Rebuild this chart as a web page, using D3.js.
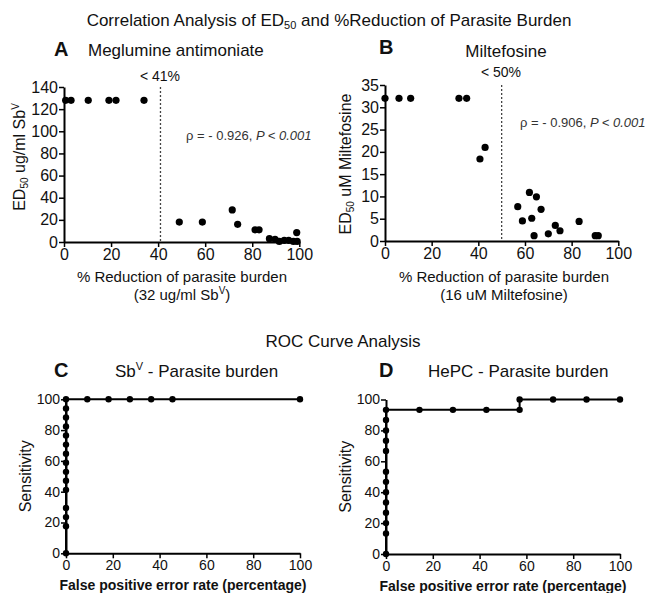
<!DOCTYPE html>
<html>
<head>
<meta charset="utf-8">
<script src="https://cdn.jsdelivr.net/npm/d3@7"></script>
<style>
  body { margin: 0; background: #fff; }
  text { font-family: "Liberation Sans", Arial, sans-serif; fill: #111; }
</style>
</head>
<body>
<script>
// Panel A: meglumine antimoniate, % reduction vs ED50
const aReduction = [0.7, 3, 10.3, 19.1, 22.1, 34, 49, 58.8, 71.5, 73.8, 81.2, 82.9, 87.3, 89.7, 91.5, 93.6, 95.5, 97.5, 98.9, 99.1];
const aED50      = [128, 128, 128, 128, 128, 128, 18, 18, 29, 16, 11, 11, 3, 2.5, 0.5, 1.5, 1.5, 0.5, 8.5, 0.5];

// Panel B: miltefosine
const bReduction = [0, 6, 11, 31.7, 35, 40.7, 42.9, 56.9, 58.9, 61.9, 62.9, 63.9, 64.9, 66.9, 70, 73, 75, 83.2, 90.1, 91.4];
const bED50      = [32, 32, 32, 32, 32, 18.4, 21, 7.7, 4.5, 10.9, 5.1, 1.2, 9.9, 7.1, 1.6, 3.5, 2.3, 4.4, 1.2, 1.2];

// Panel C: ROC SbV
const cFalsePos = [0, 0, 0, 0, 0, 0, 0, 0, 0, 0, 0, 0, 0, 0, 0, 9.1, 18.2, 27.3, 36.4, 45.5, 100];
const cSens     = [0, 17.6, 23.5, 29.4, 41.2, 47.1, 52.9, 58.8, 64.7, 70.6, 76.5, 82.4, 88.2, 94.1, 100, 100, 100, 100, 100, 100, 100];

// Panel D: ROC HePC
const dFalsePos = [0, 0, 0, 0, 0, 0, 0, 0, 0, 0, 0, 0, 0, 14.3, 28.6, 42.9, 57.1, 57.1, 71.4, 85.7, 100];
const dSens     = [0, 13.3, 20, 26.7, 33.3, 40, 46.7, 53.3, 66.7, 73.3, 80, 86.7, 93.3, 93.3, 93.3, 93.3, 93.3, 100, 100, 100, 100];

const xTicks = [0, 20, 40, 60, 80, 100];
const aYTicks = [0, 20, 40, 60, 80, 100, 120, 140];
const bYTicks = [0, 5, 10, 15, 20, 25, 30, 35];
const rocTicks = [0, 20, 40, 60, 80, 100];

const svg = d3.select("body").append("svg")
  .attr("width", 654).attr("height", 593);

function axes(xs, ys, xt, yt, fs, col) {
  const xa = svg.append("g")
    .attr("transform", `translate(0,${ys.range()[0]})`)
    .call(d3.axisBottom(xs).tickValues(xt).tickSize(5).tickPadding(2).tickSizeOuter(0));
  const ya = svg.append("g")
    .attr("transform", `translate(${xs.range()[0]},0)`)
    .call(d3.axisLeft(ys).tickValues(yt).tickSize(5).tickPadding(1).tickSizeOuter(0));
  [xa, ya].forEach(g => {
    g.select(".domain").attr("stroke", "#000").attr("stroke-width", 2);
    g.selectAll(".tick line").attr("stroke", "#000").attr("stroke-width", 1.5);
    g.selectAll(".tick text").style("font-size", fs + "px")
      .style("font-family", "'Liberation Sans', Arial, sans-serif").attr("fill", col);
  });
}

function label(x, y, txt, size, opts = {}) {
  const t = svg.append("text").attr("x", x).attr("y", y)
    .attr("text-anchor", opts.anchor || "middle")
    .style("font-size", size + "px");
  if (txt) t.text(txt);
  if (opts.bold) t.style("font-weight", "bold");
  if (opts.rotate) t.attr("transform", `rotate(-90,${x},${y})`);
  if (opts.fill) t.style("fill", opts.fill);
  return t;
}

// main titles
label(329, 26, "", 17).call(t => {
  t.append("tspan").text("Correlation Analysis of ED");
  t.append("tspan").text("50").attr("font-size", "11px").attr("dy", 3);
  t.append("tspan").text(" and %Reduction of Parasite Burden").attr("dy", -3);
});
label(343, 347, "ROC Curve Analysis", 17);

// ---------- Panel A ----------
const ax = d3.scaleLinear().domain([0, 100]).range([64, 299.3]);
const ay = d3.scaleLinear().domain([0, 140]).range([242, 87]);
axes(ax, ay, xTicks, aYTicks, 16, "#111");
svg.append("line").attr("x1", ax(41)).attr("x2", ax(41)).attr("y1", ay(140)).attr("y2", ay(0))
  .attr("stroke", "#444").attr("stroke-width", 1.3).attr("stroke-dasharray", "2,2");
svg.append("g").selectAll("circle").data(aReduction).join("circle")
  .attr("cx", d => ax(d)).attr("cy", (d, i) => ay(aED50[i])).attr("r", 3.6).attr("fill", "#000");
label(54, 56, "A", 20, { anchor: "start", bold: true });
label(88, 56, "Meglumine antimoniate", 17, { anchor: "start" });
label(160, 81, "< 41%", 14);
label(186, 140, "", 13, { anchor: "start", fill: "#333" }).call(t => {
  t.append("tspan").text("ρ = - 0.926, ");
  t.append("tspan").text("P < 0.001").style("font-style", "italic");
});
label(182, 282, "% Reduction of parasite burden", 15);
label(182, 300, "", 15).call(t => {
  t.append("tspan").text("(32 ug/ml Sb");
  t.append("tspan").text("V").attr("font-size", "10px").attr("dy", -6);
  t.append("tspan").text(")").attr("dy", 6);
});
label(25, 157, "", 16, { rotate: true }).call(t => {
  t.append("tspan").text("ED");
  t.append("tspan").text("50").attr("font-size", "10px").attr("dy", 3);
  t.append("tspan").text(" ug/ml Sb").attr("dy", -3);
  t.append("tspan").text("V").attr("font-size", "10px").attr("dy", -6);
});

// ---------- Panel B ----------
const bx = d3.scaleLinear().domain([0, 100]).range([385, 618.3]);
const by = d3.scaleLinear().domain([0, 35]).range([241, 85]);
axes(bx, by, xTicks, bYTicks, 16, "#111");
svg.append("line").attr("x1", bx(50)).attr("x2", bx(50)).attr("y1", by(35)).attr("y2", by(0))
  .attr("stroke", "#444").attr("stroke-width", 1.3).attr("stroke-dasharray", "2,2");
svg.append("g").selectAll("circle").data(bReduction).join("circle")
  .attr("cx", d => bx(d)).attr("cy", (d, i) => by(bED50[i])).attr("r", 3.6).attr("fill", "#000");
label(379, 54, "B", 20, { anchor: "start", bold: true });
label(506, 57, "Miltefosine", 17);
label(501, 77, "< 50%", 14);
label(520, 127, "", 13, { anchor: "start", fill: "#333" }).call(t => {
  t.append("tspan").text("ρ = - 0.906, ");
  t.append("tspan").text("P < 0.001").style("font-style", "italic");
});
label(504, 282, "% Reduction of parasite burden", 15);
label(504, 300, "(16 uM Miltefosine)", 15);
label(351, 164, "", 16, { rotate: true }).call(t => {
  t.append("tspan").text("ED");
  t.append("tspan").text("50").attr("font-size", "10px").attr("dy", 3);
  t.append("tspan").text(" uM Miltefosine").attr("dy", -3);
});

// ---------- ROC panels ----------
function roc(fp, sens, xr, yr, letter, lx, titleParts, tx) {
  const x = d3.scaleLinear().domain([0, 100]).range(xr);
  const y = d3.scaleLinear().domain([0, 100]).range(yr);
  axes(x, y, rocTicks, rocTicks, 14, "#333");
  const pts = fp.map((d, i) => [d, sens[i]]);
  svg.append("path").datum(pts)
    .attr("d", d3.line().x(d => x(d[0])).y(d => y(d[1])))
    .attr("fill", "none").attr("stroke", "#000").attr("stroke-width", 2);
  svg.append("g").selectAll("circle").data(pts).join("circle")
    .attr("cx", d => x(d[0])).attr("cy", d => y(d[1])).attr("r", 3.2).attr("fill", "#000");
  label(lx, 377, letter, 20, { anchor: "start", bold: true });
  label(tx, 377, "", 17, { anchor: "start" }).call(titleParts);
  const mid = (xr[0] + xr[1]) / 2;
  label(mid, yr[0] + 37, "False positive error rate (percentage)", 14, { bold: true })
    .attr("textLength", 247).attr("lengthAdjust", "spacingAndGlyphs");
  label(xr[0] - 35, (yr[0] + yr[1]) / 2, "Sensitivity", 16, { rotate: true });
}

roc(cFalsePos, cSens, [66, 300], [553.3, 399.3], "C", 54, t => {
  t.append("tspan").text("Sb");
  t.append("tspan").text("V").attr("font-size", "11px").attr("dy", -7);
  t.append("tspan").text(" - Parasite burden").attr("dy", 7);
}, 115);
roc(dFalsePos, dSens, [386, 620], [554, 399.5], "D", 379, t => {
  t.append("tspan").text("HePC - Parasite burden");
}, 428);
</script>
</body>
</html>
